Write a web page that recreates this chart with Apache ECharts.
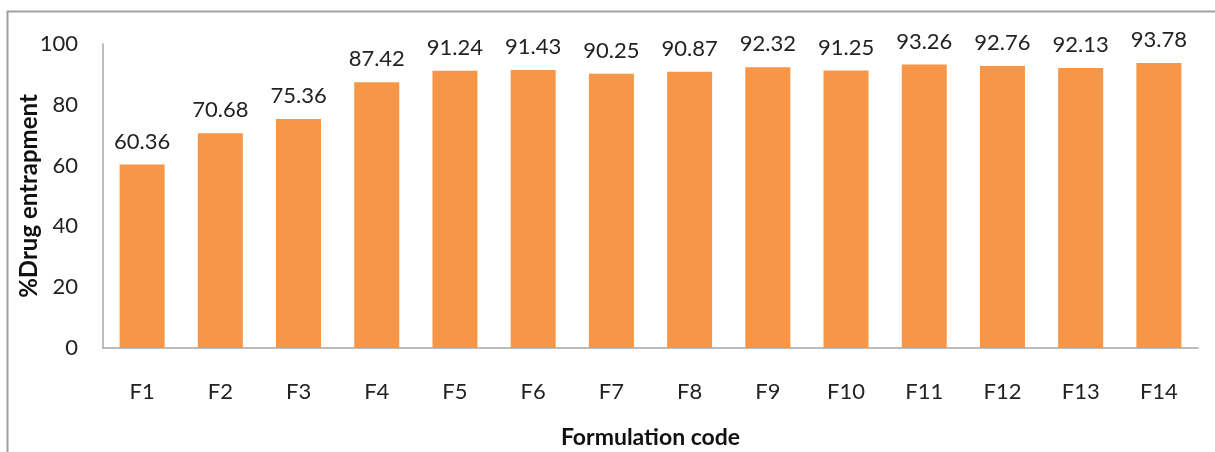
<!DOCTYPE html>
<html><head><meta charset="utf-8">
<script src="https://cdn.jsdelivr.net/npm/echarts@6/dist/echarts.min.js"></script>
<style>html,body{margin:0;padding:0;background:#fff}#c{width:1215px;height:452px}</style>
</head><body><div id="c"></div>
<script>
const categories = ['F1','F2','F3','F4','F5','F6','F7','F8','F9','F10','F11','F12','F13','F14'];
const entrapment = [60.36, 70.68, 75.36, 87.42, 91.24, 91.43, 90.25, 90.87, 92.32, 91.25, 93.26, 92.76, 92.13, 93.78];
const yTicks = {min: 0, max: 100, interval: 20};
const FONT = 'Lato, "Open Sans", sans-serif';
const chart = echarts.init(document.getElementById('c'), null, {renderer: 'canvas'});
chart.setOption({
  animation: false,
  backgroundColor: '#fff',
  graphic: [{type: 'rect', shape: {x: 7.5, y: 11.5, width: 1220, height: 500}, style: {fill: 'none', stroke: '#a0a0a0', lineWidth: 2}, silent: true, z: -1}],
  grid: {left: 103, right: 17, top: 44, bottom: 104, outerBoundsMode: 'none', containLabel: false},
  xAxis: {
    type: 'category', data: categories,
    axisLine: {lineStyle: {color: '#a6a6a6', width: 1.5}},
    axisTick: {show: false},
    axisLabel: {color: '#222', fontSize: 22, fontFamily: FONT, margin: 33},
    name: 'Formulation code', nameLocation: 'middle', nameGap: 78, nameMoveOverlap: false,
    nameTextStyle: {color: '#111', fontSize: 23, fontWeight: 'bold', fontFamily: FONT}
  },
  yAxis: {
    type: 'value', min: yTicks.min, max: yTicks.max, interval: yTicks.interval,
    axisLine: {show: true, lineStyle: {color: '#a6a6a6', width: 1.5}},
    axisTick: {show: false},
    splitLine: {show: false},
    axisLabel: {color: '#222', fontSize: 22, fontFamily: FONT, margin: 25},
    name: '%Drug entrapment', nameLocation: 'middle', nameGap: 62, nameMoveOverlap: false,
    nameTextStyle: {color: '#111', fontSize: 24, fontWeight: 'bold', fontFamily: FONT}
  },
  series: [{
    type: 'bar', data: entrapment, barWidth: 45,
    itemStyle: {color: '#F79646'},
    label: {show: true, position: 'top', distance: 12, color: '#222', fontSize: 22, fontFamily: FONT,
      formatter: p => p.value.toFixed(2)}
  }]
});
</script></body></html>
